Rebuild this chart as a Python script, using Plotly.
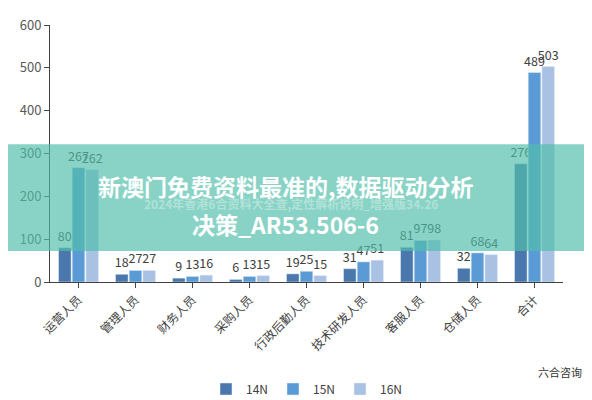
import plotly.graph_objects as go

categories = ["运营人员", "管理人员", "财务人员", "采购人员", "行政后勤人员", "技术研发人员", "客服人员", "仓储人员", "合计"]
s14 = [80, 18, 9, 6, 19, 31, 81, 32, 276]
s15 = [267, 27, 13, 13, 25, 47, 97, 68, 489]
s16 = [262, 27, 16, 15, 15, 51, 98, 64, 503]
names = ["14N", "15N", "16N"]
colors = ["#4a78ad", "#5b9bd5", "#a9c2e4"]

fig = go.Figure()
for n, v, c in zip(names, [s14, s15, s16], colors):
    fig.add_trace(go.Bar(name=n, x=categories, y=v, marker_color=c,
                         text=v, textposition="outside", textangle=0, constraintext="none",
                         textfont=dict(size=12.5, color="#404040"), cliponaxis=False))

B = 126
fig.update_layout(
    width=592, height=400, barmode="group", bargap=0.28, bargroupgap=0.08,
    plot_bgcolor="white", paper_bgcolor="white",
    margin=dict(l=42, r=37, t=17, b=B, autoexpand=False),
    font=dict(family="Noto Sans CJK SC, sans-serif", color="#595959"),
    uniformtext=dict(minsize=12, mode="show"),
    yaxis=dict(range=[0, 600], dtick=100, showgrid=False, showline=True,
               linecolor="#404040", ticks="outside", tickfont=dict(size=13)),
    xaxis=dict(showline=True, linecolor="#404040", tickangle=-45, ticks="outside",
               tickfont=dict(size=12, color="#404040")),
    legend=dict(orientation="h", x=0.5, xanchor="center", y=-0.36, yanchor="top",
                font=dict(size=12, color="#404040")),
)
def py(p):
    return (282 - p) / 265
fig.add_shape(type="rect", xref="paper", yref="paper", x0=-0.1, x1=1.1,
              y0=py(250), y1=py(140),
              fillcolor="rgba(80,190,170,0.68)", line_width=0, layer="above")
fig.add_annotation(xref="paper", yref="paper", x=0.46, y=py(183), yanchor="middle",
                   text="<b>新澳门免费资料最准的,数据驱动分析</b>", showarrow=False,
                   font=dict(size=23, color="white"))
fig.add_annotation(xref="paper", yref="paper", x=0.47, y=py(201), yanchor="middle",
                   text="<b>2024年香港6合资料大全查,定性解析说明_增强版34.26</b>", showarrow=False,
                   font=dict(size=12, color="rgba(255,255,255,0.35)"))
fig.add_annotation(xref="paper", yref="paper", x=0.46, y=py(222), yanchor="middle",
                   text="<b>决策_AR53.506-6</b>", showarrow=False,
                   font=dict(size=23, color="white"))
fig.add_annotation(xref="paper", yref="paper", x=1.04, y=-0.39, xanchor="right",
                   text="六合咨询", showarrow=False, font=dict(size=11, color="#333"))
fig.write_html("out.html")
